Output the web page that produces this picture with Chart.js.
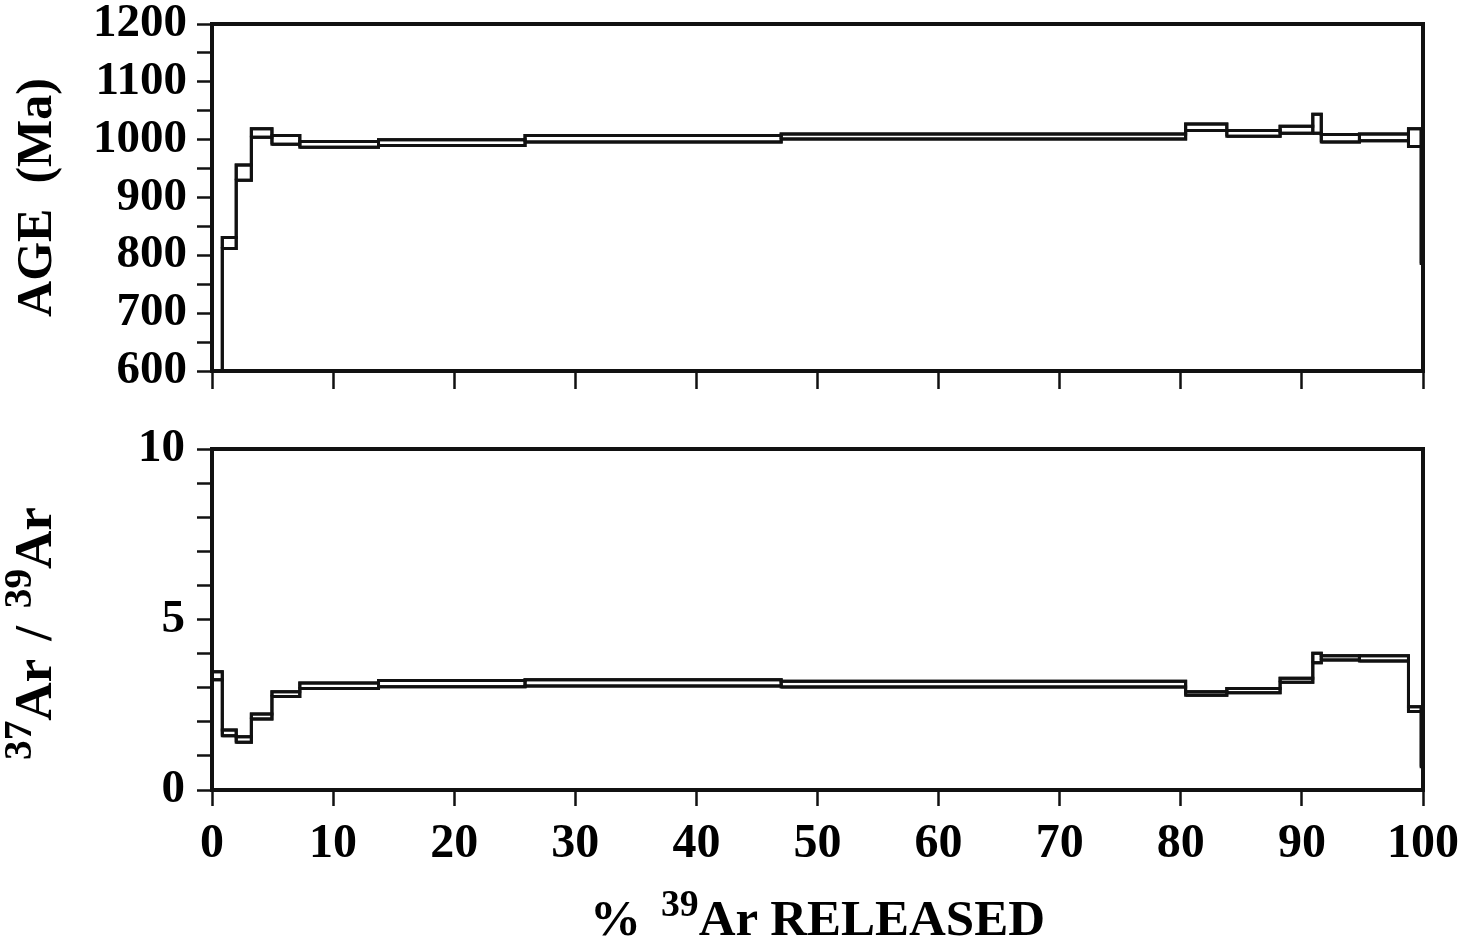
<!DOCTYPE html>
<html><head><meta charset="utf-8">
<script src="https://cdn.jsdelivr.net/npm/chart.js@4.4.1/dist/chart.umd.min.js"></script>
<style>
html,body{margin:0;padding:0;background:#fff;width:1479px;height:943px;overflow:hidden}
#c1{position:absolute;left:0;top:0}
#c2{position:absolute;left:0;top:420px}
</style></head><body>
<canvas id="c1" width="1479" height="420"></canvas>
<canvas id="c2" width="1479" height="523"></canvas>
<script>
// cumulative % 39Ar released at step boundaries
const pctBounds = [0, 0.85, 2.0, 3.25, 4.95, 7.25, 13.75, 25.85, 47.0, 80.4, 83.8, 88.2, 90.9, 91.6, 94.75, 98.8, 99.85, 100];
// apparent age (Ma), lower and upper edge of each step box
const ageLow  = [500, 812, 930, 1004, 992, 987, 990, 996, 1001, 1016, 1006, 1011, 1011, 996, 998, 988, 786];
const ageHigh = [540, 831, 956, 1019, 1007, 997, 1000, 1007, 1010, 1027, 1016, 1023, 1044, 1009, 1010, 1019, 988];
// 37Ar/39Ar ratio, lower and upper edge of each step box
const ratioLow  = [3.23, 1.59, 1.40, 2.08, 2.74, 2.98, 3.03, 3.05, 3.02, 2.78, 2.85, 3.16, 3.73, 3.81, 3.78, 2.30, 0.68];
const ratioHigh = [3.47, 1.76, 1.56, 2.23, 2.88, 3.14, 3.21, 3.23, 3.19, 2.88, 2.98, 3.28, 4.01, 3.94, 3.94, 2.44, 2.30];
// axis ticks
const xTicks = [0, 10, 20, 30, 40, 50, 60, 70, 80, 90, 100];
const ageTickLabels = [600, 700, 800, 900, 1000, 1100, 1200];
const ratioTickLabels = [0, 5, 10];

const INK = '#111';
const FONT = '"Liberation Serif", "Times New Roman", serif';

function buildDatasets(lo, hi) {
  const style = {borderColor: INK, borderWidth: 3, pointRadius: 0, tension: 0, fill: false, showLine: true};
  const ds = [];
  const upper = [], lower = [];
  for (let i = 0; i < lo.length; i++) {
    const x0 = pctBounds[i], x1 = pctBounds[i + 1];
    ds.push(Object.assign({data: [{x:x0,y:lo[i]},{x:x0,y:hi[i]},{x:x1,y:hi[i]},{x:x1,y:lo[i]},{x:x0,y:lo[i]}]}, style));
    upper.push({x:x0,y:hi[i]},{x:x1,y:hi[i]});
    lower.push({x:x0,y:lo[i]},{x:x1,y:lo[i]});
  }
  ds.push(Object.assign({data: upper}, style), Object.assign({data: lower}, style));
  return ds;
}

const framePlugin = {
  id: 'frame',
  afterDraw(chart) {
    const {ctx, chartArea: a} = chart;
    ctx.save();
    ctx.strokeStyle = INK; ctx.lineWidth = 4;
    ctx.beginPath();
    ctx.moveTo(a.left - 2, a.top); ctx.lineTo(a.right, a.top); ctx.lineTo(a.right, a.bottom + 2);
    ctx.stroke();
    ctx.restore();
  }
};

function drawRich(ctx, segs, size, cx, cy, vertical) {
  const supSize = size * 0.74, raise = size * 0.38;
  ctx.save();
  ctx.fillStyle = '#000';
  ctx.textBaseline = 'alphabetic';
  ctx.textAlign = 'left';
  let total = 0;
  const widths = segs.map(s => {
    ctx.font = `bold ${s.sup ? supSize : size}px ${FONT}`;
    const w = (s.t ? ctx.measureText(s.t).width : 0) + (s.gap || 0);
    total += w; return w;
  });
  ctx.translate(cx, cy);
  if (vertical) ctx.rotate(-Math.PI / 2);
  let x = -total / 2;
  segs.forEach((s, i) => {
    ctx.font = `bold ${s.sup ? supSize : size}px ${FONT}`;
    if (s.t) ctx.fillText(s.t, x, s.sup ? -raise : 0);
    x += widths[i];
  });
  ctx.restore();
}

function fixY(w) { return s => { s.width = w; s.paddingTop = 0; s.paddingBottom = 0; }; }
function fixX(h) { return s => { s.height = h; s.paddingLeft = 0; s.paddingRight = 0; }; }

const yTickFont = {family: FONT, weight: 'bold', size: 47};
const xTickFont = {family: FONT, weight: 'bold', size: 48};

// ---------- top: age spectrum ----------
new Chart(document.getElementById('c1'), {
  type: 'line',
  data: {datasets: buildDatasets(ageLow, ageHigh)},
  options: {
    responsive: false, animation: false, devicePixelRatio: 1,
    layout: {padding: {top: 24, right: 56, left: 0, bottom: 0}},
    plugins: {legend: {display: false}, tooltip: {enabled: false}},
    scales: {
      x: {
        type: 'linear', min: 0, max: 100,
        afterBuildTicks: s => { s.ticks = xTicks.map(v => ({value: v})); },
        ticks: {callback: () => '', font: xTickFont, autoSkip: false},
        grid: {drawOnChartArea: false, drawTicks: true, tickLength: 18, tickWidth: 2.5, color: INK},
        border: {display: true, width: 4, color: INK},
        afterFit: fixX(49)
      },
      y: {
        type: 'linear', min: 600, max: 1200,
        ticks: {stepSize: 50, padding: 10, color: '#000', font: yTickFont, autoSkip: false,
                callback: v => ageTickLabels.includes(v) ? String(v) : ''},
        grid: {drawOnChartArea: false, drawTicks: true, tickLength: 15, tickWidth: 2.5, color: INK},
        border: {display: true, width: 4, color: INK},
        title: {display: true, text: 'AGE  (Ma)', color: '#000', font: {family: FONT, weight: 'bold', size: 50}, padding: {top: 8, bottom: 0}},
        afterFit: fixY(212)
      }
    }
  },
  plugins: [framePlugin]
});

// ---------- bottom: 37Ar/39Ar ----------
const richTitles = {
  id: 'richTitles',
  afterDraw(chart) {
    const {ctx, chartArea: a} = chart;
    drawRich(ctx, [{t:'37', sup:true}, {t:'Ar', gap: 18}, {t:'/', gap: 18}, {t:'39', sup:true}, {t:'Ar'}],
             53, 51, (a.top + a.bottom) / 2 + 14, true);
    drawRich(ctx, [{t:'%', gap: 20}, {t:'39', sup:true}, {t:'Ar', gap: 12}, {t:'RELEASED'}],
             51, (a.left + a.right) / 2, 515, false);
  }
};

new Chart(document.getElementById('c2'), {
  type: 'line',
  data: {datasets: buildDatasets(ratioLow, ratioHigh)},
  options: {
    responsive: false, animation: false, devicePixelRatio: 1,
    layout: {padding: {top: 29, right: 56, left: 0, bottom: 0}},
    plugins: {legend: {display: false}, tooltip: {enabled: false}},
    scales: {
      x: {
        type: 'linear', min: 0, max: 100,
        afterBuildTicks: s => { s.ticks = xTicks.map(v => ({value: v})); },
        ticks: {padding: 10, color: '#000', font: xTickFont, maxRotation: 0, autoSkip: false},
        grid: {drawOnChartArea: false, drawTicks: true, tickLength: 16, tickWidth: 2.5, color: INK},
        border: {display: true, width: 4, color: INK},
        afterFit: fixX(153)
      },
      y: {
        type: 'linear', min: 0, max: 10,
        ticks: {stepSize: 1, padding: 12, color: '#000', font: yTickFont, autoSkip: false,
                callback: v => ratioTickLabels.includes(v) ? String(v) : ''},
        grid: {drawOnChartArea: false, drawTicks: true, tickLength: 15, tickWidth: 2.5, color: INK},
        border: {display: true, width: 4, color: INK},
        afterFit: fixY(212)
      }
    }
  },
  plugins: [framePlugin, richTitles]
});
</script>
</body></html>
